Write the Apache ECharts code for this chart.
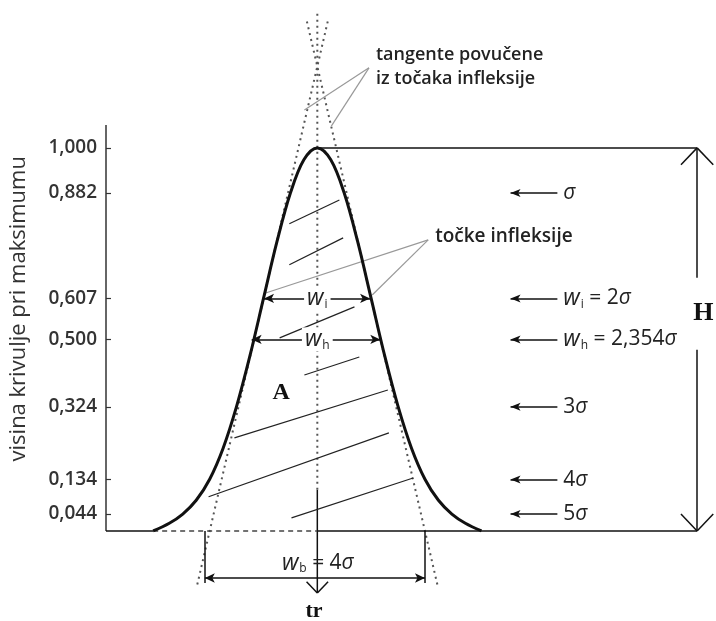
<!DOCTYPE html>
<html><head><meta charset="utf-8">
<script src="https://cdn.jsdelivr.net/npm/echarts@6/dist/echarts.min.js"></script>
<style>html,body{margin:0;padding:0;background:#fff}#c{width:716px;height:621px}</style>
</head><body><div id="c"></div>
<script>
// ---- data (x in units of sigma, y = fraction of peak height) ----
const yTicks = [1.000, 0.882, 0.607, 0.500, 0.324, 0.134, 0.044];
const curveX = [-3.05,-2.75,-2.5,-2.25,-2.0,-1.75,-1.5,-1.25,-1.0,-0.75,-0.5,-0.25,0,0.25,0.5,0.75,1.0,1.25,1.5,1.75,2.0,2.25,2.5,2.75,3.05];
const curveY = [0,0.02,0.044,0.08,0.135,0.216,0.325,0.458,0.607,0.755,0.882,0.969,1.0,0.969,0.882,0.755,0.607,0.458,0.325,0.216,0.135,0.08,0.044,0.02,0];
const tangentLeft = [[-2.23,-0.14],[0.21,1.34]];
const tangentRight = [[2.23,-0.14],[-0.21,1.34]];
const centerDotted = [[0,1.35],[0,0.107]];
const centerSolid = [[0,0.107],[0,-0.162]];
const hatchLines = [
  [[-0.52,0.802],[0.41,0.864]],
  [[-0.52,0.695],[0.48,0.765]],
  [[-0.70,0.504],[0.69,0.585]],
  [[-0.24,0.407],[0.78,0.454]],
  [[-1.54,0.243],[1.31,0.368]],
  [[-2.02,0.089],[1.33,0.256]],
  [[-0.48,0.034],[1.78,0.138]]
];
const pointerTangent = [[[0.96,1.209],[-0.24,1.099]],[[0.96,1.209],[0.26,1.057]]];
const pointerInflect = [[[2.06,0.760],[-0.96,0.621]],[[2.06,0.760],[1.02,0.616]]];
const widthWi = [[-0.99,0.607],[0.98,0.607]];
const widthWh = [[-1.22,0.5],[1.17,0.5]];
const widthWb = [[-2.09,-0.123],[2.0,-0.123]];
const wbEnds = [[[-2.09,0],[-2.09,-0.136]],[[2.0,0],[2.0,-0.136]]];
const yAxisTop = 1.06;
const hX = 7.056;
const sideArrowX = [3.59, 4.46];
const sideLabelX = 4.57;
const sideLevels = [0.882, 0.607, 0.500, 0.324, 0.134, 0.044];
const sideTexts = ['{s|σ}', '{w|w}{sub|i} = 2{s|σ}', '{w|w}{sub|h} = 2,354{s|σ}', '3{s|σ}', '4{s|σ}', '5{s|σ}'];

// ---- chart ----
const FONT = 'Open Sans';
const TXT = '#222';
const X_MIN = -3.926, X_MAX = 7.407;
const chart = echarts.init(document.getElementById('c'), null, {renderer:'canvas'});

const rich = {
  w: {fontFamily: FONT, fontStyle:'italic', fontSize:23, color:TXT},
  s: {fontFamily: FONT, fontStyle:'italic', fontSize:21, color:TXT},
  sub: {fontFamily: FONT, fontSize:12, color:TXT, padding:[12,0,0,1]}
};

function seg(a, b, style, s1, s2, size) {
  return [
    {coord:a, symbol:s1||'none', symbolSize:size||[7,10], lineStyle:style},
    {coord:b, symbol:s2||'none', symbolSize:size||[7,10]}
  ];
}
const thin = {color:'#222', width:1.2, type:'solid'};
const black = {color:'#111', width:1.5, type:'solid'};
const gray = {color:'#999', width:1.2, type:'solid'};
const dash = {color:'#444', width:1.5, type:[5,4]};

const marks = [];
// y axis line
marks.push(seg([X_MIN,0],[X_MIN,yAxisTop], {color:'#333', width:1.5, type:'solid'}));
hatchLines.forEach(h => marks.push(seg(h[0], h[1], thin)));
pointerTangent.forEach(h => marks.push(seg(h[0], h[1], gray)));
pointerInflect.forEach(h => marks.push(seg(h[0], h[1], gray)));
marks.push(seg(widthWi[0], widthWi[1], black, 'arrow', 'arrow'));
marks.push(seg(widthWh[0], widthWh[1], black, 'arrow', 'arrow'));
marks.push(seg(widthWb[0], widthWb[1], black, 'arrow', 'arrow'));
wbEnds.forEach(h => marks.push(seg(h[0], h[1], black)));
// baseline
marks.push(seg([X_MIN,0],[curveX[0],0], black));
marks.push(seg([curveX[0],0],[0,0], dash));
marks.push(seg([0,0],[hX,0], black));
// peak line and H arrow
marks.push(seg([0,1.0],[hX,1.0], black));
marks.push(seg([hX,1.0],[hX,0.661], black));
marks.push(seg([hX,0.473],[hX,0], black));
marks.push(seg([hX,1.0],[hX-0.3,0.956], black));
marks.push(seg([hX,1.0],[hX+0.3,0.956], black));
marks.push(seg([hX,0],[hX-0.3,0.044], black));
marks.push(seg([hX,0],[hX+0.3,0.044], black));
// center arrow head
marks.push(seg(centerSolid[1],[-0.2,-0.133], black));
marks.push(seg(centerSolid[1],[0.2,-0.133], black));
// side arrows
sideLevels.forEach(v => marks.push(seg([sideArrowX[0],v],[sideArrowX[1],v], black, 'arrow', 'none', [6,10])));

const labels = [];
sideLevels.forEach((v,i) => labels.push({value:[sideLabelX, v], label:{formatter: sideTexts[i], align:'left', verticalAlign:'middle'}}));
labels.push({value:[0,0.607], label:{formatter:'{w|w}{sub|i}', align:'center', verticalAlign:'middle', backgroundColor:'#fff', padding:[0,3]}});
labels.push({value:[0,0.5], label:{formatter:'{w|w}{sub|h}', align:'center', verticalAlign:'middle', backgroundColor:'#fff', padding:[0,3]}});
labels.push({value:[0.01,-0.084], label:{formatter:'{w|w}{sub|b} = 4{s|σ}', align:'center', verticalAlign:'middle'}});
labels.push({value:[1.09,1.211], label:{formatter:'tangente povučene\niz točaka infleksije', align:'left', verticalAlign:'middle', lineHeight:24, fontSize:18, fontWeight:600}});
labels.push({value:[2.19,0.768], label:{formatter:'točke infleksije', align:'left', verticalAlign:'middle', fontSize:19, fontWeight:600}});
labels.push({value:[7.17,0.569], label:{formatter:'H', align:'center', verticalAlign:'middle', fontFamily:'Liberation Serif', fontWeight:'bold', fontSize:26, color:'#111'}});
labels.push({value:[-0.06,-0.21], label:{formatter:'tr', align:'center', verticalAlign:'middle', fontFamily:'Liberation Serif', fontWeight:'bold', fontSize:22, color:'#111'}});
labels.push({value:[-0.67,0.36], label:{formatter:'A', align:'center', verticalAlign:'middle', fontFamily:'Liberation Serif', fontWeight:'bold', fontSize:24, color:'#111'}});

const option = {
  animation:false,
  backgroundColor:'#fff',
  grid:{left:104, right:0, top:10, bottom:13.5},
  xAxis:{type:'value', min:X_MIN, max:X_MAX, show:false},
  yAxis:{
    type:'value', min:-0.2, max:1.36,
    axisLine:{show:false, onZero:false},
    axisTick:{show:true, inside:true, length:5, customValues:yTicks, lineStyle:{color:'#333', width:1.2}},
    axisLabel:{customValues:yTicks, formatter: v => v.toFixed(3).replace('.', ','), fontSize:19, color:'#333', fontFamily:FONT, fontWeight:600, margin:9},
    splitLine:{show:false},
    name:'visina krivulje pri maksimumu', nameLocation:'middle', nameRotate:90, nameGap:76,
    nameTextStyle:{fontSize:22, color:'#333', fontFamily:FONT}
  },
  series:[
    {type:'line', clip:false, silent:true, symbol:'none', smooth:0.35,
     data: curveX.map((x,i)=>[x, curveY[i]]), lineStyle:{color:'#111', width:3}, z:5},
    {type:'line', clip:false, silent:true, symbol:'none', data:tangentLeft, lineStyle:{color:'#555', width:2, type:[2,4]}},
    {type:'line', clip:false, silent:true, symbol:'none', data:tangentRight, lineStyle:{color:'#555', width:2, type:[2,4]}},
    {type:'line', clip:false, silent:true, symbol:'none', data:centerDotted, lineStyle:{color:'#555', width:2, type:[2,4]}},
    {type:'line', clip:false, silent:true, symbol:'none', data:centerSolid, lineStyle:{color:'#111', width:1.5},
     markLine:{silent:true, animation:false, label:{show:false}, symbol:['none','none'], emphasis:{disabled:true}, data:marks}},
    {type:'scatter', clip:false, silent:true, symbolSize:0, data:labels, z:10,
     itemStyle:{opacity:1},
     label:{show:true, position:[0,0], fontFamily:FONT, fontSize:21, color:TXT, opacity:1, rich:rich}}
  ]
};
chart.setOption(option);
</script>
</body></html>
